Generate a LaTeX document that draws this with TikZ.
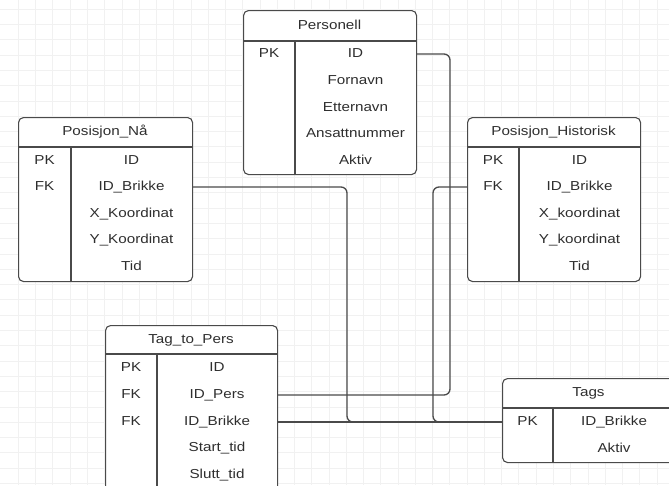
\documentclass[tikz,border=0pt]{standalone}
\usepackage{fontspec}
\setmainfont{Liberation Sans}[FakeStretch=1.17]
\definecolor{linec}{HTML}{4A4A4A}
\definecolor{textc}{HTML}{2E2E2E}
\definecolor{gridc}{HTML}{F1F1F1}
\begin{document}
\begin{tikzpicture}[x=1pt,y=-1pt,
  tbl/.style={draw=linec,line width=1.1pt,rounded corners=5pt,anchor=north west,inner sep=0pt,fill=white},
  tline/.style={draw=linec,line width=1.1pt},
  txt/.style={inner sep=0pt,text=textc,font=\fontsize{13}{15}\selectfont,text height=9.5pt,text depth=2.5pt},
  conn/.style={draw=linec,line width=1.3pt,rounded corners=6pt},
  gridline/.style={draw=gridc,line width=0.7pt}]
\useasboundingbox (0,0) rectangle (669,485);
\clip (0,0) rectangle (669,485);
\fill[white] (0,0) rectangle (669,485);
% grid
\foreach \i in {0,...,38} {\draw[gridline] ({18.3+17.26*\i},0) -- ({18.3+17.26*\i},485);}
\foreach \j in {0,...,31} {\draw[gridline] (0,{9.1+15.3*\j}) -- (669,{9.1+15.3*\j});}

% coordinates for connector bends
\coordinate (c1) at (450,0);
\coordinate (c2) at (347,0);
\coordinate (c3) at (433,0);

% ---------- Personell
\node[tbl,minimum width=173pt,minimum height=164pt] (pers) at (243,10) {};
\draw[tline] ([yshift=-31pt]pers.north west) -- ([yshift=-31pt]pers.north east);
\draw[tline] ([xshift=52pt,yshift=-31pt]pers.north west) -- ([xshift=52pt]pers.south west);
\node[txt] (pers-t) at (329.5,25.5) {Personell};
\node[txt,minimum width=52pt] (pers-pk) at (269,54) {PK};
\node[txt,minimum width=121pt] (pers-id) at (355.5,54) {ID};
\node[txt,minimum width=121pt] (pers-fn) at (355.5,81) {Fornavn};
\node[txt,minimum width=121pt] (pers-en) at (355.5,107.5) {Etternavn};
\node[txt,minimum width=121pt] (pers-an) at (355.5,134) {Ansattnummer};
\node[txt,minimum width=121pt] (pers-ak) at (355.5,161) {Aktiv};

% ---------- Posisjon_Nå
\node[tbl,minimum width=174pt,minimum height=164pt] (pn) at (18,117) {};
\draw[tline] ([yshift=-30pt]pn.north west) -- ([yshift=-30pt]pn.north east);
\draw[tline] ([xshift=53pt,yshift=-30pt]pn.north west) -- ([xshift=53pt]pn.south west);
\node[txt] (pn-t) at (105,132) {Posisjon\_Nå};
\node[txt,minimum width=53pt] (pn-pk) at (44.5,161) {PK};
\node[txt,minimum width=53pt] (pn-fk) at (44.5,187) {FK};
\node[txt,minimum width=121pt] (pn-id) at (131.5,161) {ID};
\node[txt,minimum width=121pt] (pn-brikke) at (131.5,187) {ID\_Brikke};
\node[txt,minimum width=121pt] (pn-x) at (131.5,214) {X\_Koordinat};
\node[txt,minimum width=121pt] (pn-y) at (131.5,240) {Y\_Koordinat};
\node[txt,minimum width=121pt] (pn-tid) at (131.5,267) {Tid};

% ---------- Posisjon_Historisk
\node[tbl,minimum width=173pt,minimum height=164pt] (ph) at (467,117) {};
\draw[tline] ([yshift=-30pt]ph.north west) -- ([yshift=-30pt]ph.north east);
\draw[tline] ([xshift=52pt,yshift=-30pt]ph.north west) -- ([xshift=52pt]ph.south west);
\node[txt] (ph-t) at (553.5,132) {Posisjon\_Historisk};
\node[txt,minimum width=52pt] (ph-pk) at (493,161) {PK};
\node[txt,minimum width=52pt] (ph-fk) at (493,187) {FK};
\node[txt,minimum width=121pt] (ph-id) at (579.5,161) {ID};
\node[txt,minimum width=121pt] (ph-brikke) at (579.5,187) {ID\_Brikke};
\node[txt,minimum width=121pt] (ph-x) at (579.5,214) {X\_koordinat};
\node[txt,minimum width=121pt] (ph-y) at (579.5,240) {Y\_koordinat};
\node[txt,minimum width=121pt] (ph-tid) at (579.5,267) {Tid};

% ---------- Tag_to_Pers
\node[tbl,minimum width=172pt,minimum height=168pt] (ttp) at (105,325) {};
\draw[tline] ([yshift=-29pt]ttp.north west) -- ([yshift=-29pt]ttp.north east);
\draw[tline] ([xshift=52pt,yshift=-29pt]ttp.north west) -- ([xshift=52pt]ttp.south west);
\node[txt] (ttp-t) at (191,339.5) {Tag\_to\_Pers};
\node[txt,minimum width=52pt] (ttp-pk) at (131,368) {PK};
\node[txt,minimum width=52pt] (ttp-fk1) at (131,395) {FK};
\node[txt,minimum width=52pt] (ttp-fk2) at (131,422) {FK};
\node[txt,minimum width=120pt] (ttp-id) at (217,368) {ID};
\node[txt,minimum width=120pt] (ttp-pers) at (217,395) {ID\_Pers};
\node[txt,minimum width=120pt] (ttp-brikke) at (217,422) {ID\_Brikke};
\node[txt,minimum width=120pt] (ttp-start) at (217,448) {Start\_tid};
\node[txt,minimum width=120pt] (ttp-slutt) at (217,475) {Slutt\_tid};

% ---------- Tags
\node[tbl,minimum width=173pt,minimum height=84pt] (tags) at (502,378) {};
\draw[tline] ([yshift=-30pt]tags.north west) -- ([yshift=-30pt]tags.north east);
\draw[tline] ([xshift=51pt,yshift=-30pt]tags.north west) -- ([xshift=51pt]tags.south west);
\node[txt] (tags-t) at (588.5,393) {Tags};
\node[txt,minimum width=51pt] (tags-pk) at (527.5,422) {PK};
\node[txt,minimum width=122pt] (tags-brikke) at (614,422) {ID\_Brikke};
\node[txt,minimum width=122pt] (tags-ak) at (614,449) {Aktiv};

% ---------- connectors
\draw[conn] (pers-id.east) -| (c1 |- ttp-pers.east) -- (ttp-pers.east);
\draw[conn] (pn-brikke.east) -| (c2 |- tags-pk.west) -- (tags-pk.west);
\draw[conn] (ph-fk.west) -| (c3 |- tags-pk.west) -- (tags-pk.west);
\draw[conn] (ttp-brikke.east) -- (tags-pk.west);
\end{tikzpicture}
\end{document}
